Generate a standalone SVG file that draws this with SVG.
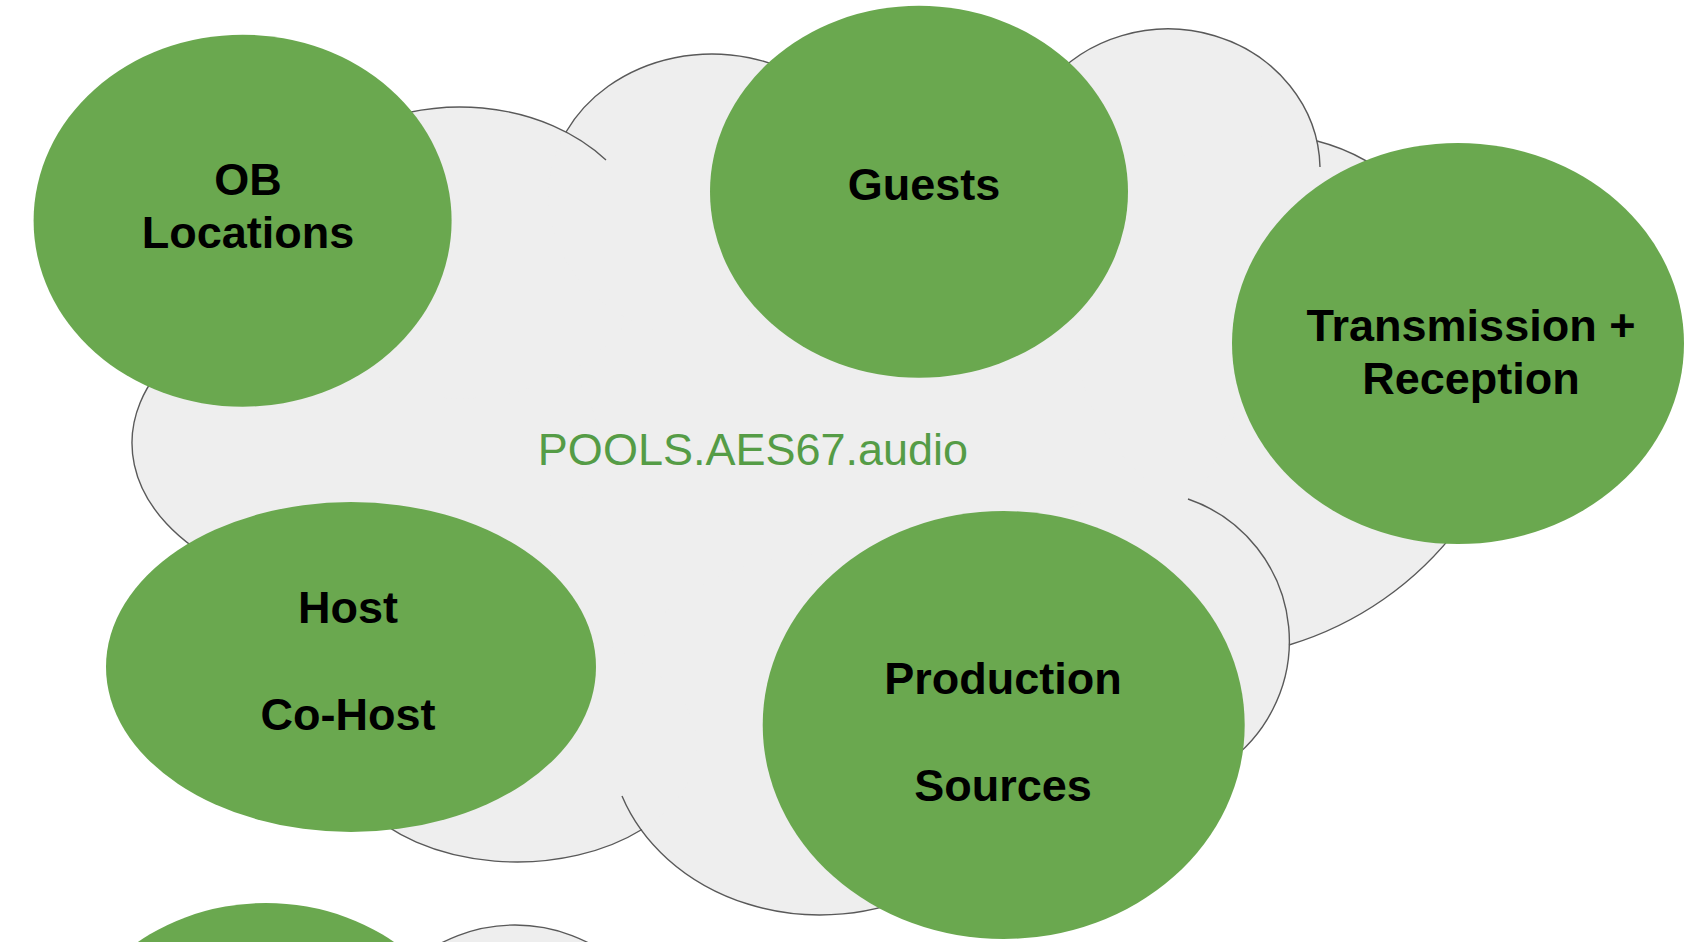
<svg xmlns="http://www.w3.org/2000/svg" width="1706" height="942" viewBox="0 0 1706 942">
  <style>
    .cloud-fill { fill: #eeeeee; stroke: none; }
    .cloud-line { fill: none; stroke: #595959; stroke-width: 1.4; }
    .node { fill: #6aa84f; stroke: none; }
    .lbl { font-family: "Liberation Sans", Arial, sans-serif; font-weight: bold; font-size: 45px; fill: #000000; text-anchor: middle; }
    .cloud-lbl { font-family: "Liberation Sans", Arial, sans-serif; font-size: 45px; fill: #559c46; text-anchor: middle; }
  </style>

  <g id="cloud">
    <g class="cloud-fill">
      <polygon points="365,443 460,253 712,197 919,192 1168,170 1270,330 1324,528 1139,641 1004,725 820,735 517,746 351,667"/>
      <ellipse cx="365" cy="443" rx="233" ry="154"/>
      <ellipse cx="460" cy="252.7" rx="189.3" ry="145.7"/>
      <ellipse cx="712" cy="196.5" rx="163.7" ry="142.5"/>
      <ellipse cx="1168" cy="170" rx="152" ry="141"/>
      <circle cx="1270" cy="330" r="194"/>
      <path d="M 1459.2 526.4 A 333 333 0 0 1 1289 645 L 1139 641 L 1270 330 Z"/>
      <circle cx="1139" cy="641" r="150"/>
      <ellipse cx="820" cy="734.6" rx="210.6" ry="180.4"/>
      <ellipse cx="517" cy="746" rx="180" ry="116"/>
    </g>
    <g class="cloud-line">
      <path d="M 225.2 566.2 A 233 154 0 0 1 178.6 350.6"/>
      <path d="M 346.4 136.1 A 189.3 145.7 0 0 1 606 160"/>
      <path d="M 566 132 A 163.7 142.5 0 0 1 810.2 82.5"/>
      <path d="M 1046.4 85.4 A 152 141 0 0 1 1320 167"/>
      <path d="M 1317 141 A 194 194 0 0 1 1405.8 191.5"/>
      <path d="M 1459.2 526.4 A 333 333 0 0 1 1289 645"/>
      <path d="M 1188 499 A 150 150 0 0 1 1214 771"/>
      <path d="M 925.3 890.8 A 210.6 180.4 0 0 1 622 796"/>
      <path d="M 641.9 829.5 A 180 116 0 0 1 364 807.1"/>
    </g>
    <text class="cloud-lbl" x="753" y="465">POOLS.AES67.audio</text>
  </g>

  <g id="cloud-2">
    <ellipse class="cloud-fill" cx="515" cy="1075" rx="155" ry="150"/>
    <ellipse class="cloud-line" cx="515" cy="1075" rx="155" ry="150"/>
  </g>

  <g id="node-ob">
    <ellipse class="node" cx="242.6" cy="220.7" rx="209" ry="186"/>
    <text class="lbl" x="248" y="195">OB</text>
    <text class="lbl" x="248" y="248">Locations</text>
  </g>

  <g id="node-guests">
    <ellipse class="node" cx="919" cy="191.8" rx="209" ry="186"/>
    <text class="lbl" x="924" y="200">Guests</text>
  </g>

  <g id="node-transmission">
    <ellipse class="node" cx="1458" cy="343.5" rx="226" ry="200.5"/>
    <text class="lbl" x="1471" y="341">Transmission +</text>
    <text class="lbl" x="1471" y="394">Reception</text>
  </g>

  <g id="node-host">
    <ellipse class="node" cx="351" cy="667" rx="245" ry="165"/>
    <text class="lbl" x="348" y="623">Host</text>
    <text class="lbl" x="348" y="730">Co-Host</text>
  </g>

  <g id="node-production">
    <ellipse class="node" cx="1003.7" cy="725" rx="241" ry="214"/>
    <text class="lbl" x="1003" y="694">Production</text>
    <text class="lbl" x="1003" y="801">Sources</text>
  </g>

  <g id="node-bottom">
    <ellipse class="node" cx="266" cy="1089" rx="209" ry="186"/>
  </g>

  <g id="connectors"></g>
</svg>
